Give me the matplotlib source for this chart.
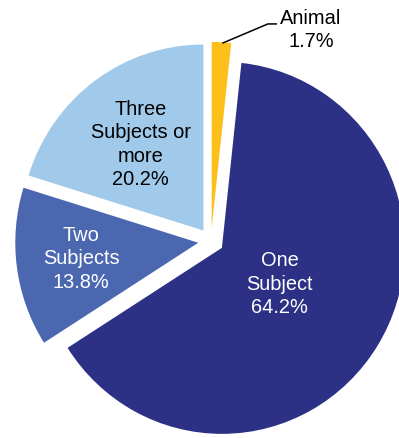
import numpy as np
import matplotlib.pyplot as plt

plt.rcParams['font.family'] = ['Liberation Sans', 'DejaVu Sans']

# slice data, clockwise from 12 o'clock
categories = ['Animal', 'One\nSubject', 'Two\nSubjects', 'Three\nSubjects or\nmore']
shares = [1.7, 64.2, 13.8, 20.2]
colors = ['#FDC01A', '#2C3185', '#4A67B0', '#A0C9EA']
text_colors = ['black', 'white', 'white', 'black']
label_dist = [None, 0.37, 0.645, 0.576]   # distance of label from exploded slice tip

explode = 0.07
fs = 14.4

fig = plt.figure(figsize=(3.99, 4.38), dpi=100)
ax = fig.add_axes([0, 0, 1, 1])

wedges, _ = ax.pie(shares, colors=colors, startangle=90, counterclock=False,
                   explode=[explode] * len(shares), radius=1.0,
                   wedgeprops=dict(linewidth=0))

for w, cat, val, tc, d in zip(wedges, categories, shares, text_colors, label_dist):
    mid = np.deg2rad((w.theta1 + w.theta2) / 2)
    label = f'{cat}\n{val:.1f}%'
    if d is None:
        # small slice: outside label with leader line
        r0 = 1.0 + explode
        x0, y0 = r0 * np.cos(mid), r0 * np.sin(mid)
        ax.plot([x0 + 0.005, 0.311, 0.361], [y0 - 0.005, 1.167, 1.167],
                color='black', lw=1.1, solid_capstyle='butt')
        ax.text(0.546, 1.134, label, ha='center', va='center', fontsize=fs,
                color=tc, linespacing=1.3)
        continue
    r = explode + d
    ax.text(r * np.cos(mid), r * np.sin(mid), label, ha='center', va='center',
            fontsize=fs, color=tc, linespacing=1.3)

# slightly different pixel scale in x and y, like the original
ax.set_xlim(-211 / 183, 188 / 183)
ax.set_ylim(-197 / 186, 241 / 186)
ax.set_aspect('auto')
ax.axis('off')

fig.savefig('out.png', dpi=100)
